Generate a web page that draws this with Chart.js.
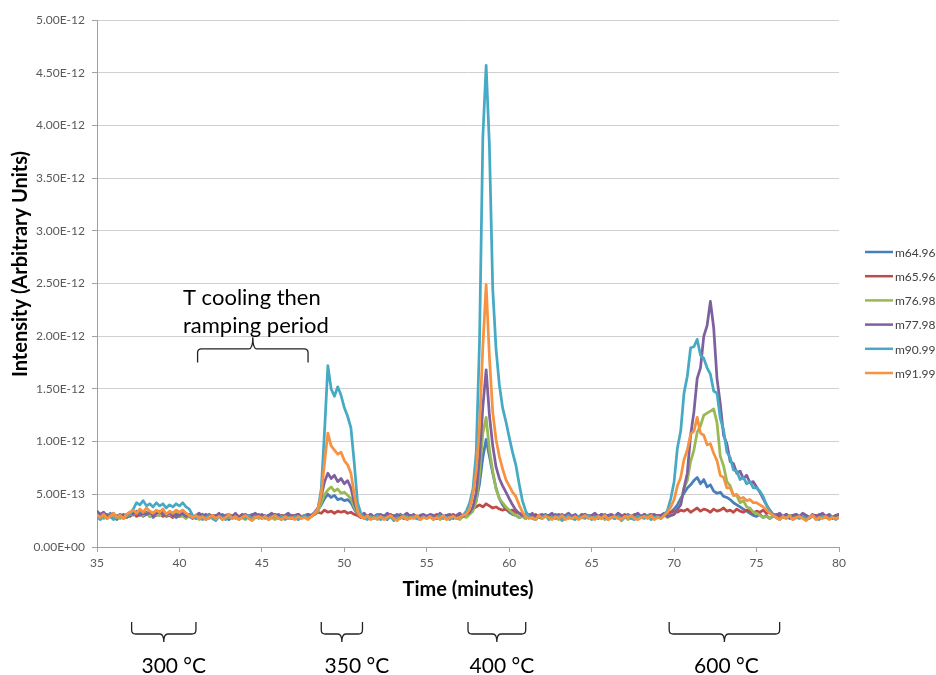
<!DOCTYPE html>
<html>
<head>
<meta charset="utf-8">
<script src="https://cdn.jsdelivr.net/npm/chart.js@4.4.1/dist/chart.umd.min.js"></script>
<style>html,body{margin:0;padding:0;background:#fff;}canvas{display:block;}</style>
</head>
<body>
<canvas id="c" width="936" height="675"></canvas>
<script>
// ---------------- DATA (intensity in units of 1E-13, sampled every 0.2 min from 35 to 80 min) ----------------
const seriesNames = ['m64.96', 'm65.96', 'm76.98', 'm77.98', 'm90.99', 'm91.99'];
const timeStart = 35, timeStep = 0.2;
const valueUnit = 1e-13;

const m64_96 = [
  3.0,2.7,3.1,2.8,3.2,2.9,2.6,3.0,2.8,3.1,2.9,3.2,3.0,3.3,2.9,3.1,3.2,2.8,3.1,3.0,3.3,2.9,3.0,3.2,2.8,
  3.0,3.1,2.8,2.9,2.7,3.0,2.8,3.1,2.6,2.9,3.0,2.7,2.9,3.1,2.8,2.6,3.0,2.9,2.7,3.1,2.8,3.0,2.7,2.9,3.1,
  2.8,3.0,2.7,2.9,3.1,2.8,2.6,2.9,3.0,2.7,2.9,3.1,2.8,3.0,2.9,3.0,3.2,3.5,4.0,4.6,5.0,4.7,4.9,4.5,4.6,
  4.4,4.5,4.2,3.6,3.1,2.9,2.8,3.0,2.7,2.9,3.1,2.8,3.0,2.6,2.9,3.0,2.8,3.1,2.7,2.9,3.0,2.8,2.7,3.0,2.9,
  2.8,3.0,2.9,2.7,3.1,2.8,2.9,3.0,2.7,2.9,3.0,2.9,3.0,3.2,3.6,4.4,6.0,8.5,10.2,8.6,7.0,5.6,4.6,4.0,3.6,
  3.3,3.1,3.0,2.8,2.9,2.7,3.0,2.9,3.1,2.8,2.7,3.0,2.9,2.8,3.1,2.9,2.7,3.0,2.8,2.9,3.0,2.7,2.9,3.1,2.8,
  2.9,3.0,2.7,2.9,3.1,2.8,3.0,2.7,2.9,2.8,3.1,2.9,2.7,3.0,2.8,2.9,3.1,2.8,3.0,2.7,2.9,3.0,3.0,3.2,3.3,
  3.6,4.0,4.6,5.1,5.6,5.9,6.3,6.6,6.0,6.4,5.7,5.9,5.3,5.1,5.2,4.8,4.7,4.5,4.2,4.0,3.8,3.6,3.4,3.2,3.0,
  2.9,3.1,2.8,3.0,2.7,2.9,3.1,2.8,2.9,3.0,2.7,2.9,3.1,2.8,3.0,2.9,2.7,3.0,2.8,3.1,2.9,2.8,3.0,2.7,2.9,
  3.0];
const m65_96 = [
  2.9,3.0,2.8,3.1,2.9,2.7,3.0,2.9,3.1,2.8,3.0,3.2,2.9,3.1,3.0,3.3,2.9,3.1,3.0,3.2,2.9,3.1,3.0,2.8,3.1,
  2.9,3.0,2.8,3.1,2.9,2.7,3.0,2.8,2.9,3.1,2.8,3.0,2.9,2.7,3.0,2.9,2.8,3.1,2.9,3.0,2.8,2.9,3.1,2.8,3.0,
  2.9,2.8,3.0,2.9,3.1,2.8,3.0,2.9,2.7,3.0,2.9,3.1,2.8,3.0,2.9,3.0,3.1,3.3,3.2,3.5,3.3,3.4,3.2,3.4,3.3,
  3.4,3.2,3.3,3.1,3.0,2.8,3.0,2.9,3.1,2.8,2.9,3.0,2.7,2.9,3.1,2.8,3.0,2.9,2.8,3.1,2.9,3.0,2.8,2.9,3.0,
  2.9,3.0,2.8,3.1,2.9,2.8,3.0,2.9,3.1,2.8,3.0,2.9,3.2,3.4,3.6,3.8,4.0,3.8,4.1,3.9,3.7,3.8,3.6,3.5,3.6,
  3.4,3.5,3.3,3.2,3.0,2.9,3.1,2.8,3.0,2.9,2.8,3.1,2.9,3.0,2.8,2.9,3.1,2.8,3.0,2.9,3.0,2.8,3.1,2.9,3.0,
  2.8,3.0,2.9,3.1,2.8,3.0,2.9,2.8,3.1,2.9,3.0,2.8,2.9,3.1,3.0,2.8,2.9,3.0,3.1,2.9,3.0,3.0,3.1,3.2,3.3,
  3.4,3.3,3.5,3.4,3.6,3.3,3.5,3.7,3.4,3.6,3.5,3.3,3.6,3.4,3.5,3.7,3.4,3.5,3.3,3.6,3.4,3.3,3.5,3.4,3.2,
  3.4,3.3,3.5,3.2,3.3,3.1,2.9,3.0,2.8,3.1,2.9,3.0,2.8,2.9,3.1,3.0,2.8,2.9,3.0,2.8,3.1,2.9,3.0,2.8,2.9,
  3.0];
const m76_98 = [
  2.8,3.0,2.7,2.9,3.1,2.8,3.0,2.7,2.9,3.1,3.2,3.0,3.3,3.1,3.0,3.2,2.9,3.3,3.1,3.0,3.2,3.0,3.1,2.9,3.2,
  3.0,2.9,2.7,3.0,2.8,2.9,2.6,2.8,3.0,2.7,2.9,2.8,3.0,2.6,2.9,2.8,3.0,2.7,2.9,2.8,2.6,2.9,2.8,3.0,2.7,
  2.9,2.7,3.0,2.8,2.6,2.9,2.8,3.0,2.7,2.9,2.8,2.6,2.9,3.0,2.8,2.9,3.1,3.4,4.2,5.0,5.4,5.7,5.3,5.5,5.1,
  5.2,4.9,4.6,3.8,3.2,2.9,2.7,3.0,2.8,2.9,2.6,2.8,3.0,2.7,2.9,2.8,2.6,3.0,2.8,2.9,2.7,3.0,2.8,2.6,2.9,
  2.8,3.0,2.7,2.9,2.6,2.8,3.0,2.7,2.9,2.8,2.6,2.9,2.8,3.1,3.4,4.3,7.0,10.8,12.3,9.2,7.2,5.5,4.6,4.2,3.8,
  3.5,3.2,3.0,2.8,2.9,2.7,3.0,2.8,2.6,2.9,2.8,3.0,2.7,2.9,2.8,2.6,2.9,3.0,2.7,2.8,2.9,2.7,3.0,2.8,2.9,
  2.7,2.9,2.8,3.0,2.6,2.9,2.8,2.7,3.0,2.8,2.9,2.6,2.8,3.0,2.7,2.9,2.8,3.0,2.7,2.9,2.8,2.9,3.0,2.8,3.0,
  3.1,3.6,4.1,5.6,6.3,8.1,9.2,10.9,11.5,12.5,12.7,12.9,13.1,11.8,8.6,7.7,6.2,5.8,4.9,4.9,4.2,4.4,3.8,3.7,3.3,
  3.2,3.0,2.8,2.9,2.7,3.0,2.8,2.6,2.9,2.8,3.0,2.7,2.9,2.8,3.0,2.6,2.8,2.9,2.7,3.0,2.8,2.9,2.7,2.8,3.0,
  2.8];
const m77_98 = [
  3.4,3.1,3.3,2.9,3.0,3.2,2.8,3.1,2.9,3.0,3.3,3.1,3.4,3.0,3.2,3.1,3.3,3.0,3.2,3.4,3.1,3.0,3.3,2.9,3.1,
  3.0,3.2,2.9,3.1,2.8,3.0,3.2,2.9,3.1,2.8,3.0,2.9,3.2,2.8,3.0,3.1,2.9,3.2,2.8,3.0,3.1,2.9,3.0,3.2,2.9,
  3.1,2.8,3.0,3.2,2.9,3.1,2.8,3.0,3.2,2.9,3.0,3.1,2.8,3.0,3.1,3.0,3.3,3.7,4.8,6.2,7.0,6.5,6.8,6.2,6.5,
  6.0,6.3,5.6,4.2,3.3,3.0,3.2,2.9,3.1,2.8,3.0,3.1,2.9,3.2,3.0,2.8,3.1,2.9,3.0,3.2,2.9,3.1,2.8,3.0,3.1,
  2.9,3.1,3.0,2.8,3.2,2.9,3.0,3.1,2.8,3.0,3.2,2.9,3.1,3.3,3.8,5.2,8.5,13.3,16.8,12.5,9.6,7.6,6.5,5.8,5.2,
  4.6,4.0,3.5,3.2,3.0,3.1,2.9,3.2,2.8,3.0,3.1,2.9,3.0,3.2,2.8,3.1,2.9,3.0,3.2,2.9,3.1,2.8,3.0,3.1,2.9,
  3.0,3.2,2.9,3.1,2.8,3.0,3.1,2.9,3.2,3.0,2.8,3.1,2.9,3.0,3.2,2.9,3.1,2.8,3.0,3.1,2.9,3.0,3.2,2.9,3.0,
  3.1,3.6,4.0,5.6,7.0,10.6,12.8,16.0,17.0,20.0,21.0,23.3,20.8,16.0,13.6,10.6,9.8,8.1,7.9,7.0,7.2,6.5,6.8,6.1,6.2,
  5.7,5.2,4.6,4.0,3.5,3.1,3.0,3.2,2.9,3.1,2.8,3.0,3.1,2.9,3.2,3.0,2.8,3.1,2.9,3.0,3.2,2.9,3.1,2.8,3.0,
  3.1];
const m90_99 = [
  2.8,2.6,3.0,2.7,2.9,2.6,2.8,3.0,2.7,2.9,3.1,3.6,4.2,4.0,4.4,3.9,4.1,3.8,4.2,3.9,4.1,3.7,4.0,3.8,4.1,
  3.9,4.2,3.8,3.6,3.0,2.7,2.9,2.6,2.8,3.0,2.7,2.5,2.9,2.8,2.6,3.0,2.7,2.9,2.6,2.8,2.7,3.0,2.6,2.8,2.9,
  2.7,2.9,2.6,2.8,3.0,2.7,2.9,2.6,2.8,2.7,2.9,2.6,2.8,3.0,2.7,2.9,3.1,3.6,5.5,11.0,17.2,15.0,14.3,15.2,14.4,
  13.2,12.4,11.3,8.0,4.2,3.2,2.8,2.6,2.9,2.7,3.0,2.6,2.8,2.7,2.9,2.5,2.8,2.7,3.0,2.6,2.8,2.9,2.7,2.6,2.9,
  2.7,2.9,2.6,2.8,3.0,2.7,2.8,2.6,2.9,2.7,2.8,3.0,3.4,4.2,5.5,9.0,19.6,38.9,45.7,38.0,24.5,18.8,15.4,13.2,11.9,
  10.4,9.0,7.8,6.0,4.4,3.4,2.9,2.7,2.6,2.9,2.8,3.0,2.6,2.8,2.7,2.9,2.5,2.8,3.0,2.7,2.6,2.9,2.8,2.7,3.0,
  2.6,2.8,2.9,2.7,3.0,2.6,2.8,2.7,2.9,2.5,2.8,3.0,2.7,2.6,2.9,2.8,2.7,3.0,2.6,2.8,2.9,2.7,3.0,3.5,4.6,
  6.2,9.4,11.0,14.6,16.2,18.9,19.0,19.7,18.2,17.9,17.0,16.4,14.8,14.6,12.2,11.1,9.0,8.5,7.3,7.2,6.4,6.6,6.0,6.2,5.6,
  5.6,5.3,4.8,4.0,3.4,3.0,2.8,2.6,2.9,2.7,3.0,2.6,2.8,2.7,2.9,2.6,2.8,3.0,2.7,2.6,2.9,2.8,2.7,2.9,2.6,
  2.8];
const m91_99 = [
  3.0,2.8,3.1,2.7,2.9,3.2,2.8,3.0,2.7,3.1,3.3,3.5,3.2,3.6,3.3,3.7,3.4,3.2,3.5,3.3,3.6,3.1,3.4,3.2,3.5,
  3.3,3.5,3.2,3.0,2.8,3.0,2.7,2.9,2.6,2.8,3.0,2.7,2.9,2.6,2.8,3.1,2.7,2.9,2.6,2.8,3.0,2.7,2.5,2.8,2.9,
  2.7,2.9,2.6,2.8,3.0,2.7,2.6,2.9,2.7,2.8,2.6,2.9,2.7,2.8,2.6,2.9,3.2,3.6,5.0,8.0,10.8,9.6,9.2,8.8,9.0,
  8.2,7.8,7.0,5.0,3.4,2.9,2.7,3.0,2.6,2.8,2.7,2.9,2.6,2.8,3.0,2.7,2.5,2.8,2.9,2.6,2.8,2.7,3.0,2.6,2.8,
  2.7,2.9,2.6,2.8,2.7,3.0,2.6,2.8,2.9,2.7,2.8,3.0,3.1,3.6,5.0,7.2,11.5,19.0,24.9,18.0,12.8,10.2,8.6,7.4,6.4,
  5.8,5.2,4.8,4.0,3.3,2.9,2.7,2.8,2.6,3.0,2.7,2.9,2.8,2.6,2.9,2.7,3.0,2.6,2.8,2.7,2.9,2.6,2.8,3.0,2.7,
  2.8,2.6,2.9,2.7,3.0,2.6,2.8,2.9,2.7,2.6,2.9,2.8,3.0,2.7,2.6,2.8,2.9,2.7,3.0,2.6,2.8,2.7,3.0,3.3,3.8,
  4.5,5.8,6.6,8.3,9.2,10.7,11.0,12.3,10.8,10.6,9.7,9.8,8.9,8.2,6.8,6.6,5.6,5.6,4.9,5.0,4.6,4.7,4.4,4.5,4.2,
  4.2,4.0,3.8,3.5,3.2,3.0,2.8,2.6,2.9,2.7,3.0,2.6,2.8,2.9,2.7,2.5,2.8,3.0,2.6,2.8,2.7,2.9,2.6,2.8,2.7,
  2.8];

// annotation content (time ranges in minutes)
const tempLabels = ['300 °C', '350 °C', '400 °C', '600 °C'];
const tempRanges = [[37.1, 41.0], [48.6, 51.1], [57.5, 61.0], [69.7, 76.4]];
const coolingText = ['T cooling then', 'ramping period'];
const coolingRange = [41.1, 47.8];

// ---------------- STYLE ----------------
const seriesColors = ['#4A7EBB', '#BE4B48', '#98B954', '#7D60A0', '#46AAC5', '#F69240'];
const FONT = 'Lato';
const allSeries = [m64_96, m65_96, m76_98, m77_98, m90_99, m91_99];
allSeries.forEach((s, k) => { if (s.length !== 226) throw new Error(seriesNames[k] + ' has ' + s.length); });

const datasets = allSeries.map((vals, k) => ({
  label: seriesNames[k],
  data: vals.map((v, i) => ({ x: +(timeStart + i * timeStep).toFixed(1), y: v })),
  borderColor: seriesColors[k],
  backgroundColor: seriesColors[k],
  borderWidth: 2.75,
  pointRadius: 0,
  tension: 0,
  borderJoinStyle: 'round',
  borderCapStyle: 'round',
  order: allSeries.length - 1 - k
}));

function fmtY(v) {
  if (v === 0) return '0.00E+00';
  const real = v * valueUnit;
  let e = Math.floor(Math.log10(real) + 1e-9);
  const m = real / Math.pow(10, e);
  const es = (e < 0 ? '-' : '+') + String(Math.abs(e)).padStart(2, '0');
  return m.toFixed(2) + 'E' + es;
}

function brace(ctx, x1, x2, yEnd, yBar, yTip) {
  const xc = (x1 + x2) / 2, r = 4;
  const d = Math.sign(yEnd - yBar);
  ctx.beginPath();
  ctx.moveTo(x1, yEnd);
  ctx.lineTo(x1, yBar + d * r);
  ctx.quadraticCurveTo(x1, yBar, x1 + r, yBar);
  ctx.lineTo(xc - r, yBar);
  ctx.quadraticCurveTo(xc, yBar, xc, yTip);
  ctx.quadraticCurveTo(xc, yBar, xc + r, yBar);
  ctx.lineTo(x2 - r, yBar);
  ctx.quadraticCurveTo(x2, yBar, x2, yBar + d * r);
  ctx.lineTo(x2, yEnd);
  ctx.stroke();
}

const annotations = {
  id: 'annotations',
  afterDraw(chart) {
    const { ctx, scales: { x, y } } = chart;
    ctx.save();
    // y axis title
    ctx.fillStyle = '#000';
    ctx.font = 'bold 20px ' + FONT;
    ctx.textAlign = 'center';
    ctx.textBaseline = 'middle';
    ctx.save();
    ctx.translate(21, 264);
    ctx.rotate(-Math.PI / 2);
    ctx.fillText('Intensity (Arbitrary Units)', 0, 0);
    ctx.restore();

    // legend
    ctx.font = '12px ' + FONT;
    ctx.textAlign = 'left';
    seriesNames.forEach((n, k) => {
      const yy = 252 + k * 24.2;
      ctx.strokeStyle = seriesColors[k];
      ctx.lineWidth = 2.5;
      ctx.beginPath(); ctx.moveTo(865, yy); ctx.lineTo(893, yy); ctx.stroke();
      ctx.fillStyle = '#404040';
      ctx.fillText(n, 895, yy + 1);
    });

    // temperature braces below the axis
    ctx.strokeStyle = '#222';
    ctx.lineWidth = 1.3;
    ctx.fillStyle = '#000';
    ctx.font = '21px ' + FONT;
    ctx.textAlign = 'center';
    const labelDx = [10, 15, 5, 2];
    tempRanges.forEach((r, k) => {
      const x1 = x.getPixelForValue(r[0]), x2 = x.getPixelForValue(r[1]);
      brace(ctx, x1, x2, 622, 634, 642);
      ctx.fillText(tempLabels[k], (x1 + x2) / 2 + labelDx[k], 666);
    });

    // cooling annotation
    const cx1 = x.getPixelForValue(coolingRange[0]), cx2 = x.getPixelForValue(coolingRange[1]);
    brace(ctx, cx1, cx2, y.getPixelForValue(17.5), y.getPixelForValue(18.8), y.getPixelForValue(19.9));
    ctx.font = '22px ' + FONT;
    ctx.textAlign = 'left';
    ctx.fillText(coolingText[0], 183, 298);
    ctx.fillText(coolingText[1], 183, 326);
    ctx.restore();
  }
};

new Chart(document.getElementById('c'), {
  type: 'line',
  data: { datasets },
  plugins: [annotations],
  options: {
    responsive: false,
    animation: false,
    devicePixelRatio: 1,
    layout: { padding: { left: 0, top: 20, right: 97, bottom: 0 } },
    plugins: { legend: { display: false }, tooltip: { enabled: false } },
    scales: {
      x: {
        type: 'linear', min: 35, max: 80,
        ticks: { stepSize: 5, color: '#595959', font: { family: FONT, size: 12 }, padding: 4, maxRotation: 0 },
        grid: { drawOnChartArea: false, drawTicks: true, tickLength: 5, tickColor: '#a0a0a0' },
        border: { color: '#a0a0a0' },
        title: { display: true, text: 'Time (minutes)', color: '#000', font: { family: FONT, size: 20, weight: 'bold' }, padding: { top: 0, bottom: 73 } },
        afterFit(s) { s.height = 128; }
      },
      y: {
        min: 0, max: 50,
        ticks: { stepSize: 5, color: '#595959', font: { family: FONT, size: 12 }, padding: 7, callback: fmtY },
        grid: { color: '#d0d0d0', tickLength: 5, tickColor: '#a0a0a0' },
        border: { color: '#a0a0a0' },
        afterFit(s) { s.width = 97; }
      }
    }
  }
});
</script>
</body>
</html>
